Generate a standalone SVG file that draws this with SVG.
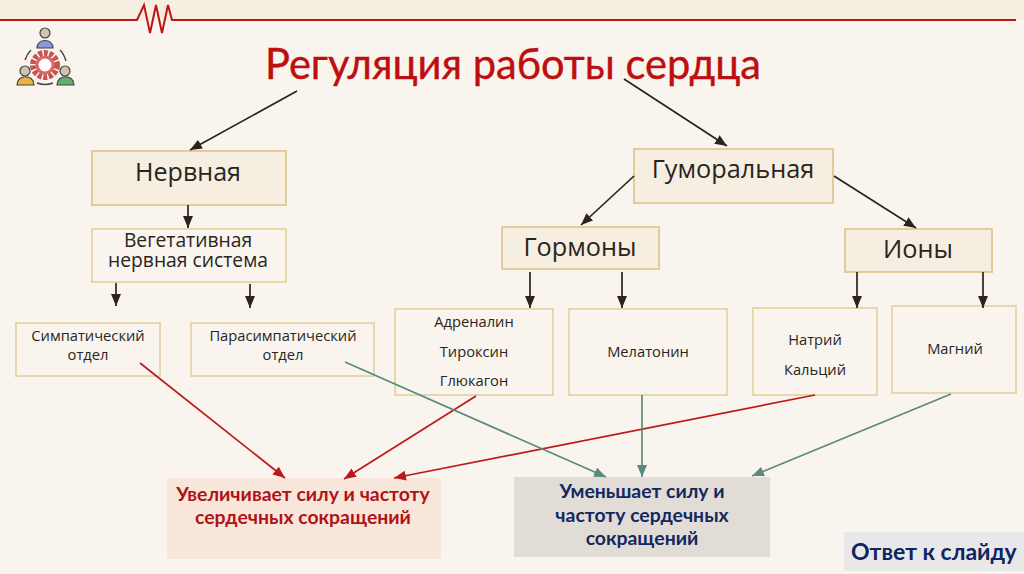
<svg xmlns="http://www.w3.org/2000/svg" width="1024" height="574" viewBox="0 0 1024 574">
<style>
text{font-family:"Open Sans","Noto Sans",sans-serif;fill:#29251e;text-anchor:middle}
.n{fill:#f9f5ee;stroke:#e6d7ac;stroke-width:2}
.h{fill:#f6eee1;stroke:#e0cd9a;stroke-width:2}
.k{fill:none;stroke:#2c2416;stroke-width:1.7}
.r{fill:none;stroke:#bb1a1a;stroke-width:1.7}
.g{fill:none;stroke:#5b8a7d;stroke-width:1.7}
.s{font-size:14.7px}
.m{font-size:19.3px}
.b{font-size:25.3px}
.t{font-family:Lato,"Open Sans",sans-serif;font-weight:700;font-size:19.4px}
</style>
<defs>
<marker id="ak" markerUnits="userSpaceOnUse" markerWidth="14" markerHeight="12" refX="12" refY="5" orient="auto"><path d="M0 0L12 5L0 10Z" fill="#2c2416"/></marker>
<marker id="ar" markerUnits="userSpaceOnUse" markerWidth="14" markerHeight="12" refX="12" refY="5" orient="auto"><path d="M0 0L12 5L0 10Z" fill="#bb1a1a"/></marker>
<marker id="ag" markerUnits="userSpaceOnUse" markerWidth="14" markerHeight="12" refX="12" refY="5" orient="auto"><path d="M0 0L12 5L0 10Z" fill="#5b8a7d"/></marker>
</defs>
<rect width="1024" height="574" fill="#f9f5ee"/>
<rect width="1024" height="20" fill="#f6efe1"/>
<path d="M0 20H137L144 5L150 33L156 5L162 33L168 5L172 20H1016" fill="none" stroke="#bf1414" stroke-width="2"/>
<g id="icon">
<circle cx="45" cy="33" r="5" fill="#d2c2b0" stroke="#444" stroke-width="1.2"/>
<path d="M37 48C37 38 53 38 53 48Z" fill="#8d98dc" stroke="#444" stroke-width="1.2"/>
<circle cx="45" cy="65" r="12" fill="#fff" stroke="#c9534f" stroke-width="6" stroke-dasharray="4 1.5"/>
<circle cx="45" cy="65" r="8" fill="none" stroke="#d86a62" stroke-width="3"/>
<circle cx="25" cy="71" r="5" fill="#d2c2b0" stroke="#444" stroke-width="1.2"/>
<path d="M17 85C17 74 34 74 34 85Z" fill="#edb23c" stroke="#444" stroke-width="1.2"/>
<circle cx="65" cy="71" r="5" fill="#d2c2b0" stroke="#444" stroke-width="1.2"/>
<path d="M57 85C57 74 74 74 74 85Z" fill="#62b06a" stroke="#444" stroke-width="1.2"/>
<path d="M25 60Q27 54 31 50M60 50Q64 54 66 61M37 83Q45 86 53 83" fill="none" stroke="#444" stroke-width="1.4"/>
</g>
<text id="title" x="513" y="79" font-size="42" textLength="496" lengthAdjust="spacingAndGlyphs" style="fill:#bd0f0f;font-family:Lato,'Open Sans',sans-serif;stroke:#bd0f0f;stroke-width:.4">Регуляция работы сердца</text>
<g id="n1"><rect class="h" x="92" y="151" width="194" height="54"/><text class="b" x="188" y="181" textLength="106" lengthAdjust="spacingAndGlyphs">Нервная</text></g>
<g id="n2"><rect class="n" x="92" y="229" width="194" height="53"/><text class="m" x="188" y="247"><tspan x="188">Вегетативная</tspan><tspan x="188" dy="20">нервная система</tspan></text></g>
<g id="n3"><rect class="n" x="16" y="323" width="144" height="53"/><text class="s" x="88" y="341">Симпатический</text><text class="s" x="88" y="360">отдел</text></g>
<g id="n4"><rect class="n" x="191" y="323" width="183" height="53"/><text class="s" x="283" y="341">Парасимпатический</text><text class="s" x="283" y="360">отдел</text></g>
<g id="n5"><rect class="h" x="634" y="149" width="199" height="54"/><text class="b" x="733" y="178">Гуморальная</text></g>
<g id="n6"><rect class="h" x="502" y="227" width="157" height="42"/><text class="b" x="580" y="256">Гормоны</text></g>
<g id="n7"><rect class="h" x="845" y="229" width="147" height="43"/><text class="b" x="918" y="258">Ионы</text></g>
<g id="n8"><rect class="n" x="395" y="309" width="158" height="86"/><text class="s" x="474" y="327">Адреналин</text><text class="s" x="474" y="357">Тироксин</text><text class="s" x="474" y="386">Глюкагон</text></g>
<g id="n9"><rect class="n" x="569" y="309" width="158" height="86"/><text class="s" x="648" y="357">Мелатонин</text></g>
<g id="n10"><rect class="n" x="753" y="308" width="124" height="87"/><text class="s" x="815" y="345">Натрий</text><text class="s" x="815" y="375">Кальций</text></g>
<g id="n11"><rect class="n" x="892" y="306" width="124" height="87"/><text class="s" x="955" y="354">Магний</text></g>
<g id="n12"><rect x="167" y="478" width="274" height="81" fill="#f9e6da"/><text class="t" x="303" y="501" style="fill:#b01218">Увеличивает силу и частоту</text><text class="t" x="303" y="524" style="fill:#b01218">сердечных сокращений</text></g>
<g id="n13"><rect x="514" y="477" width="256" height="80" fill="#e2dcd6"/><text class="t" x="642" y="498" style="fill:#14285f">Уменьшает силу и</text><text class="t" x="642" y="522" style="fill:#14285f">частоту сердечных</text><text class="t" x="642" y="545" style="fill:#14285f">сокращений</text></g>
<g id="n14"><rect x="844" y="532" width="180" height="39" fill="#e8e8e8"/><text x="851" y="560" font-size="23" font-weight="700" style="fill:#0f2460;text-anchor:start;font-family:Lato,'Open Sans',sans-serif">Ответ к слайду</text></g>
<g id="connectors">
<path class="k" marker-end="url(#ak)" d="M297 91L190 150"/>
<path class="k" marker-end="url(#ak)" d="M624 79L727 146"/>
<path class="k" marker-end="url(#ak)" d="M188 205V228"/>
<path class="k" marker-end="url(#ak)" d="M116 283V306"/>
<path class="k" marker-end="url(#ak)" d="M250 284V308"/>
<path class="k" marker-end="url(#ak)" d="M634 176L581 225"/>
<path class="k" marker-end="url(#ak)" d="M834 176L916 228"/>
<path class="k" marker-end="url(#ak)" d="M530 272V308"/>
<path class="k" marker-end="url(#ak)" d="M622 272V308"/>
<path class="k" marker-end="url(#ak)" d="M857 272V308"/>
<path class="k" marker-end="url(#ak)" d="M983 272V308"/>
<path class="r" marker-end="url(#ar)" d="M140 363L285 478"/>
<path class="r" marker-end="url(#ar)" d="M476 396L344 479"/>
<path class="r" marker-end="url(#ar)" d="M815 395L394 478"/>
<path class="g" marker-end="url(#ag)" d="M345 362L606 477"/>
<path class="g" marker-end="url(#ag)" d="M642 395V477"/>
<path class="g" marker-end="url(#ag)" d="M951 394L752 476"/>
</g>
</svg>
